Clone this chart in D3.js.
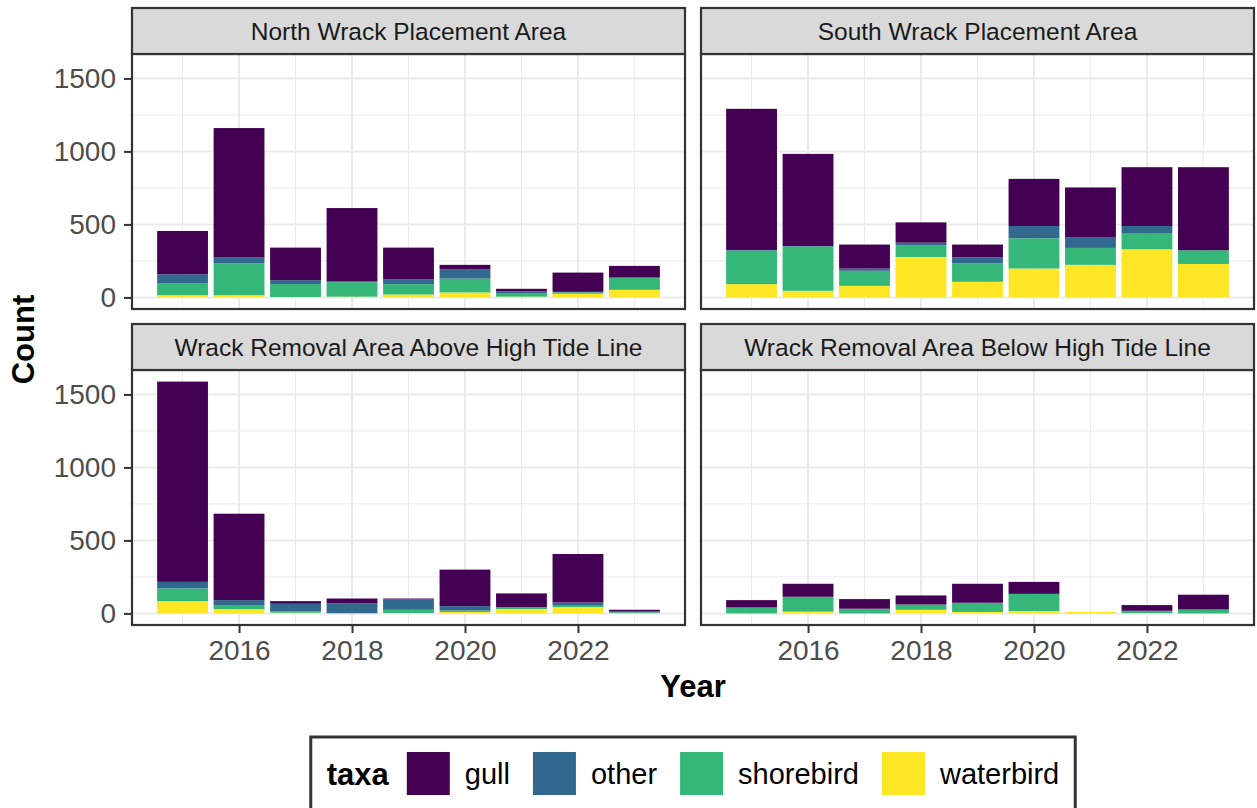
<!DOCTYPE html>
<html>
<head>
<meta charset="utf-8">
<script src="https://cdn.jsdelivr.net/npm/d3@7"></script>
<style>
  html, body { margin: 0; padding: 0; background: #ffffff; }
  svg { display: block; font-family: "Liberation Sans", Arial, sans-serif; }
</style>
</head>
<body>
<svg id="chart" width="1257" height="808"></svg>
<script>
// Survey years and facet areas
const years = [2015, 2016, 2017, 2018, 2019, 2020, 2021, 2022, 2023];
const areas = [
  "North Wrack Placement Area",
  "South Wrack Placement Area",
  "Wrack Removal Area Above High Tide Line",
  "Wrack Removal Area Below High Tide Line"
];
const taxa = ["gull", "other", "shorebird", "waterbird"];
const taxaColors = ["#440154", "#31688E", "#35B779", "#FDE725"];

// Counts per taxon: one row per area (same order as `areas`), one value per year
const gullCounts = [
  [297, 887, 223, 502, 216, 30, 18, 132, 80],
  [967, 631, 164, 139, 87, 323, 343, 403, 569],
  [1372, 592, 18, 34, 6, 250, 94, 332, 9],
  [50, 89, 66, 62, 130, 82, 0, 39, 101]
];
const otherCounts = [
  [60, 39, 27, 5, 34, 64, 11, 3, 0],
  [4, 3, 16, 18, 41, 84, 71, 52, 0],
  [45, 38, 50, 65, 71, 30, 3, 22, 8],
  [0, 0, 0, 0, 0, 0, 0, 0, 0]
];
const shorebirdCounts = [
  [83, 219, 88, 100, 71, 95, 25, 10, 84],
  [230, 304, 103, 80, 127, 207, 116, 107, 94],
  [87, 24, 11, 3, 22, 10, 10, 10, 6],
  [41, 102, 32, 36, 63, 118, 0, 16, 27]
];
const waterbirdCounts = [
  [15, 15, 3, 5, 20, 34, 5, 25, 52],
  [91, 45, 79, 277, 107, 198, 223, 330, 229],
  [84, 29, 5, 0, 3, 10, 30, 43, 2],
  [0, 12, 0, 25, 10, 16, 11, 2, 0]
];

const yTicks = [0, 500, 1000, 1500];
const yMinor = [250, 750, 1250];
const xTicks = [2016, 2018, 2020, 2022];
const xMinor = [2015, 2017, 2019, 2021, 2023];

const countsByTaxon = { gull: gullCounts, other: otherCounts, shorebird: shorebirdCounts, waterbird: waterbirdCounts };

// Build one table per area for d3.stack
const tables = areas.map((a, ai) => years.map((yr, yi) => {
  const row = { year: yr };
  taxa.forEach(t => { row[t] = countsByTaxon[t][ai][yi]; });
  return row;
}));

// Stack with waterbird at the bottom, gull on top
const stack = d3.stack().keys(taxa.slice().reverse());
const stacked = tables.map(t => stack(t));

const maxTotal = d3.max(tables, t => d3.max(t, r => d3.sum(taxa, k => r[k])));

// Layout
const svg = d3.select("#chart");
const colX = [132, 701];
const panelW = 553;
const rowTop = [8, 324];
const stripH = 46;
const panelH = 255;
const barWidth = 0.9;
const tickFont = 28;

const color = d3.scaleOrdinal().domain(taxa).range(taxaColors);

// Continuous x scale with 5% expansion around the bars
const xLo = d3.min(years) - barWidth / 2, xHi = d3.max(years) + barWidth / 2;
const xPad = (xHi - xLo) * 0.05;
const x = d3.scaleLinear().domain([xLo - xPad, xHi + xPad]).range([0, panelW]);
const y = d3.scaleLinear().domain([-0.05 * maxTotal, 1.05 * maxTotal]).range([panelH, 0]);

svg.append("rect").attr("width", 1257).attr("height", 808).attr("fill", "#ffffff");

areas.forEach((area, ai) => {
  const col = ai % 2, row = Math.floor(ai / 2);
  const px = colX[col];
  const sy = rowTop[row];
  const py = sy + stripH;
  const g = svg.append("g").attr("transform", `translate(${px},${py})`);

  // grid
  g.selectAll("line.ymin").data(yMinor).join("line")
    .attr("x1", 0).attr("x2", panelW).attr("y1", d => y(d)).attr("y2", d => y(d))
    .attr("stroke", "#EBEBEB").attr("stroke-width", 1);
  g.selectAll("line.xmin").data(xMinor).join("line")
    .attr("y1", 0).attr("y2", panelH).attr("x1", d => x(d)).attr("x2", d => x(d))
    .attr("stroke", "#EBEBEB").attr("stroke-width", 1);
  g.selectAll("line.ymaj").data(yTicks).join("line")
    .attr("x1", 0).attr("x2", panelW).attr("y1", d => y(d)).attr("y2", d => y(d))
    .attr("stroke", "#EBEBEB").attr("stroke-width", 2);
  g.selectAll("line.xmaj").data(xTicks).join("line")
    .attr("y1", 0).attr("y2", panelH).attr("x1", d => x(d)).attr("x2", d => x(d))
    .attr("stroke", "#EBEBEB").attr("stroke-width", 2);

  // stacked bars
  const bw = x(barWidth) - x(0);
  g.selectAll("g.layer").data(stacked[ai]).join("g")
    .attr("fill", d => color(d.key))
    .selectAll("rect").data(d => d.filter(s => s[1] > s[0])).join("rect")
      .attr("x", d => x(d.data.year) - bw / 2)
      .attr("width", bw)
      .attr("y", d => y(d[1]))
      .attr("height", d => y(d[0]) - y(d[1]));

  // panel border
  g.append("rect").attr("x", 0).attr("y", 0).attr("width", panelW).attr("height", panelH)
    .attr("fill", "none").attr("stroke", "#333333").attr("stroke-width", 2.2);

  // strip
  svg.append("rect").attr("x", px).attr("y", sy).attr("width", panelW).attr("height", stripH)
    .attr("fill", "#D9D9D9").attr("stroke", "#333333").attr("stroke-width", 2.2);
  svg.append("text").attr("x", px + panelW / 2).attr("y", sy + stripH / 2)
    .attr("text-anchor", "middle").attr("dy", "0.36em")
    .attr("font-size", 24.5).attr("fill", "#1A1A1A").text(area);

  // y axis on the left column
  if (col === 0) {
    const ya = g.append("g").call(d3.axisLeft(y).tickValues(yTicks).tickSize(8).tickPadding(8).tickFormat(d3.format("d")));
    ya.select(".domain").remove();
    ya.selectAll(".tick line").attr("stroke", "#333333").attr("stroke-width", 2);
    ya.selectAll(".tick text").attr("font-size", tickFont).attr("fill", "#4D4D4D")
      .attr("font-family", "Liberation Sans, Arial, sans-serif");
  }
  // x axis on the bottom row
  if (row === 1) {
    const xa = g.append("g").attr("transform", `translate(0,${panelH})`)
      .call(d3.axisBottom(x).tickValues(xTicks).tickSize(8).tickPadding(7).tickFormat(d3.format("d")));
    xa.select(".domain").remove();
    xa.selectAll(".tick line").attr("stroke", "#333333").attr("stroke-width", 2);
    xa.selectAll(".tick text").attr("font-size", tickFont).attr("fill", "#4D4D4D")
      .attr("font-family", "Liberation Sans, Arial, sans-serif");
  }
});

// axis titles
const panelsLeft = colX[0], panelsRight = colX[1] + panelW;
const panelsTop = rowTop[0] + stripH, panelsBottom = rowTop[1] + stripH + panelH;
svg.append("text")
  .attr("transform", `translate(34,${(panelsTop + panelsBottom) / 2}) rotate(-90)`)
  .attr("text-anchor", "middle").attr("font-size", 31).attr("font-weight", "bold")
  .attr("fill", "#000").text("Count");
svg.append("text")
  .attr("x", (panelsLeft + panelsRight) / 2).attr("y", 697)
  .attr("text-anchor", "middle").attr("font-size", 31).attr("font-weight", "bold")
  .attr("fill", "#000").text("Year");

// legend
const leg = svg.append("g");
const keySize = 43;
const keyY = 752;
const textY = keyY + keySize / 2;
let cursor = 0;
const items = leg.append("g");
const title = items.append("text").attr("x", cursor).attr("y", textY).attr("dy", "0.36em")
  .attr("font-size", 31).attr("font-weight", "bold").attr("fill", "#000").text("taxa");
cursor += title.node().getComputedTextLength() + 18;
taxa.forEach((t, i) => {
  items.append("rect").attr("x", cursor).attr("y", keyY).attr("width", keySize).attr("height", keySize)
    .attr("fill", color(t));
  cursor += keySize + 15;
  const tx = items.append("text").attr("x", cursor).attr("y", textY).attr("dy", "0.36em")
    .attr("font-size", 29).attr("fill", "#000").text(t);
  cursor += tx.node().getComputedTextLength() + (i < taxa.length - 1 ? 23 : 0);
});
const legW = cursor;
const cx = (panelsLeft + panelsRight) / 2;
const padX = 16;
items.attr("transform", `translate(${cx - legW / 2},0)`);
leg.insert("rect", ":first-child")
  .attr("x", cx - legW / 2 - padX).attr("y", 737)
  .attr("width", legW + 2 * padX).attr("height", 90)
  .attr("fill", "#ffffff").attr("stroke", "#333333").attr("stroke-width", 3);
</script>
</body>
</html>
